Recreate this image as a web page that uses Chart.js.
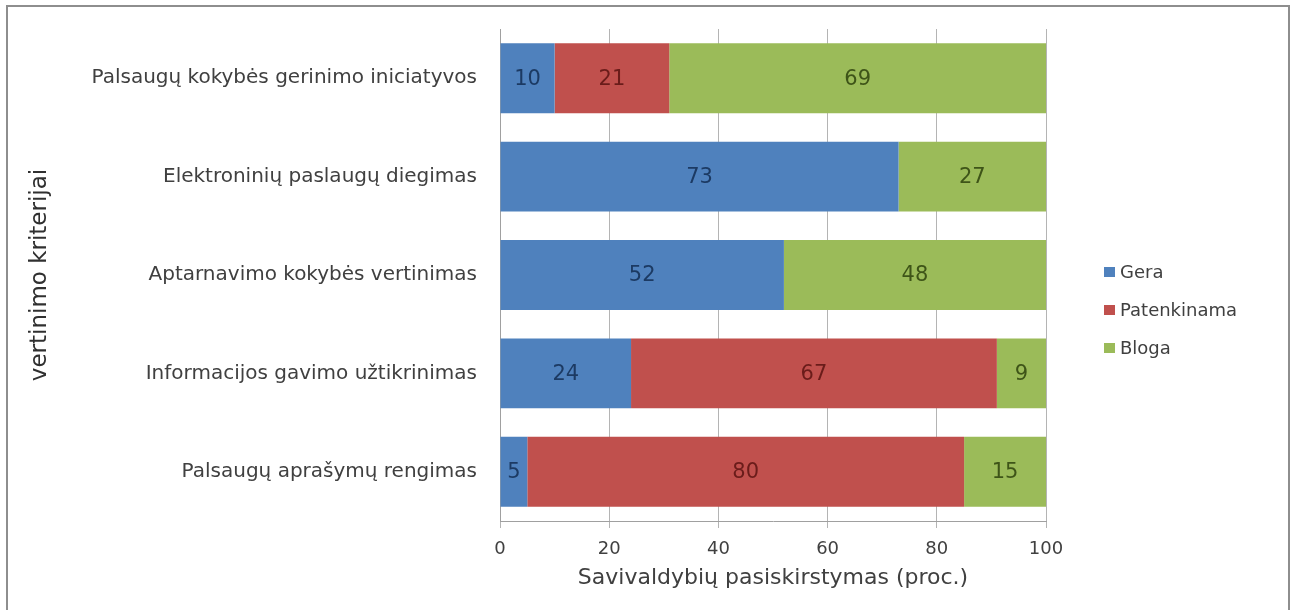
<!DOCTYPE html>
<html>
<head>
<meta charset="utf-8">
<script src="https://cdn.jsdelivr.net/npm/chart.js@4"></script>
<style>
  body { margin: 0; background: #fff; }
  #wrap { position: relative; width: 1294px; height: 610px; }
  #frame { position: absolute; left: 6px; top: 5px; width: 1280px; height: 620px; border: 2px solid #8e8e8e; pointer-events: none; }
</style>
</head>
<body>
<div id="wrap">
  <canvas id="chart-canvas" width="1294" height="610"></canvas>
  <div id="frame"></div>
</div>
<script>
// chart data
let categories = [
  "Palsaugų kokybės gerinimo iniciatyvos",
  "Elektroninių paslaugų diegimas",
  "Aptarnavimo kokybės vertinimas",
  "Informacijos gavimo užtikrinimas",
  "Palsaugų aprašymų rengimas",
];
let seriesNames = ["Gera", "Patenkinama", "Bloga"];
let gera = [10, 73, 52, 24, 5];
let patenkinama = [21, 0, 0, 67, 80];
let bloga = [69, 27, 48, 9, 15];
let xTicks = [0, 20, 40, 60, 80, 100];

let colors = ["#4f81bd", "#c0504d", "#9bbb59"];
let labelColors = ["#1c3a63", "#6a1c1a", "#3e5418"];
let font = "DejaVu Sans";

// numbers in the middle of each bar piece
let barLabels = {
  id: "barLabels",
  afterDatasetsDraw(chart) {
    let ctx = chart.ctx;
    ctx.save();
    ctx.font = "21px '" + font + "'";
    ctx.textAlign = "center";
    ctx.textBaseline = "middle";
    chart.data.datasets.forEach(function (ds, i) {
      let meta = chart.getDatasetMeta(i);
      meta.data.forEach(function (bar, j) {
        if (!ds.data[j]) return;
        ctx.fillStyle = labelColors[i];
        ctx.fillText(ds.data[j], (bar.x + bar.base) / 2, bar.y + 1);
      });
    });
    ctx.restore();
  },
};

// legend on the right like the excel one
let sideLegend = {
  id: "sideLegend",
  afterDraw(chart) {
    let ctx = chart.ctx;
    ctx.save();
    ctx.font = "18px '" + font + "'";
    ctx.textBaseline = "middle";
    seriesNames.forEach(function (name, i) {
      let y = 272 + i * 38;
      ctx.fillStyle = colors[i];
      ctx.fillRect(1104, y - 5, 11, 10);
      ctx.fillStyle = "#404040";
      ctx.fillText(name, 1120, y + 1);
    });
    ctx.restore();
  },
};

let chart = document.getElementById("chart-canvas").getContext("2d");

let chart1 = new Chart(chart, {
  type: "bar",
  data: {
    labels: categories,
    datasets: [
      { label: seriesNames[0], data: gera, backgroundColor: colors[0] },
      { label: seriesNames[1], data: patenkinama, backgroundColor: colors[1] },
      { label: seriesNames[2], data: bloga, backgroundColor: colors[2] },
    ],
  },
  options: {
    indexAxis: "y",
    responsive: false,
    animation: false,
    barPercentage: 0.71,
    categoryPercentage: 1,
    layout: { padding: { left: 26, top: 29, right: 248, bottom: 19 } },
    plugins: { legend: { display: false }, tooltip: { enabled: false } },
    scales: {
      x: {
        stacked: true,
        min: 0,
        max: 100,
        afterBuildTicks(scale) {
          scale.ticks = xTicks.map(function (v) { return { value: v }; });
        },
        afterFit(scale) { scale.height = 70; },
        grid: { color: "#b4b4b4", tickLength: 7 },
        border: { color: "#a0a0a0" },
        ticks: { color: "#404040", padding: 11, font: { family: font, size: 18 } },
        title: {
          display: true,
          text: "Savivaldybių pasiskirstymas (proc.)",
          color: "#404040",
          padding: 0,
          font: { family: font, size: 22 },
        },
      },
      y: {
        stacked: true,
        afterFit(scale) { scale.width = 474; },
        grid: { display: false },
        border: { color: "#a0a0a0" },
        ticks: { color: "#404040", padding: 15, font: { family: font, size: 20 } },
        title: {
          display: true,
          text: "vertinimo kriterijai",
          color: "#303030",
          padding: 0,
          font: { family: font, size: 23 },
        },
      },
    },
  },
  plugins: [barLabels, sideLegend],
});
</script>
</body>
</html>
